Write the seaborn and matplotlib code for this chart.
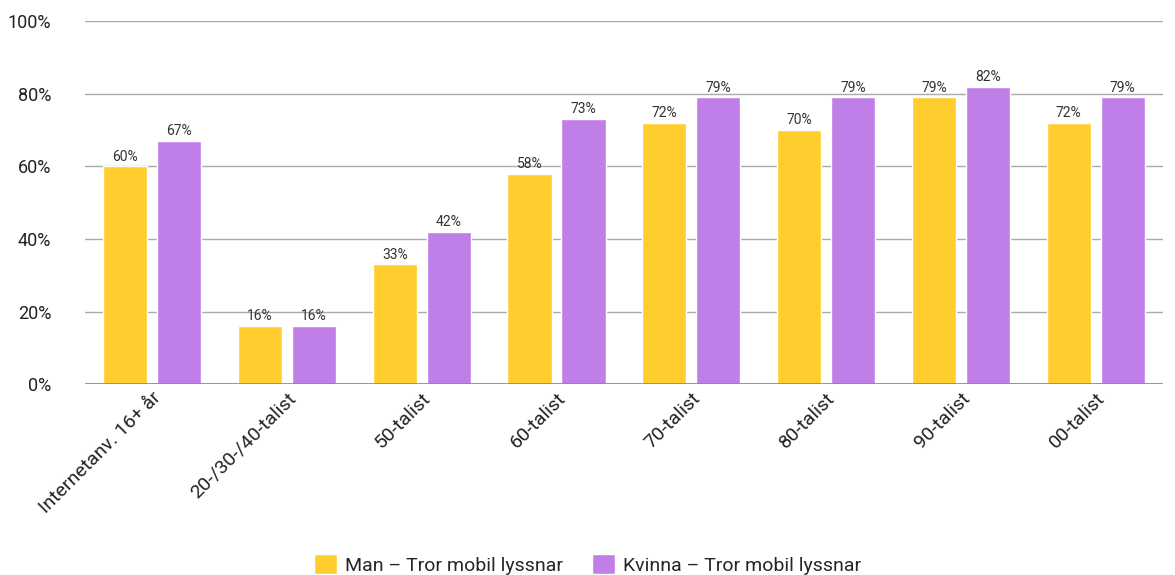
import pandas as pd
import matplotlib.pyplot as plt
import seaborn as sns
from matplotlib.ticker import PercentFormatter

categories = ['Internetanv. 16+ år', '20-/30-/40-talist', '50-talist', '60-talist',
              '70-talist', '80-talist', '90-talist', '00-talist']
man = [60, 16, 33, 58, 72, 70, 79, 72]
kvinna = [67, 16, 42, 73, 79, 79, 82, 79]
series = ['Man – Tror mobil lyssnar', 'Kvinna – Tror mobil lyssnar']
colors = ['#FFCD2E', '#C07EE8']

df = pd.DataFrame({
    'kategori': categories * 2,
    'serie': [series[0]] * len(categories) + [series[1]] * len(categories),
    'varde': man + kvinna,
})

sns.set_theme(style='white')
plt.rcParams['font.family'] = ['Roboto', 'DejaVu Sans']

fig, ax = plt.subplots(figsize=(11.75, 5.75), dpi=100)
fig.subplots_adjust(left=0.072, right=0.99, top=0.963, bottom=0.332)

sns.barplot(data=df, x='kategori', y='varde', hue='serie', palette=colors,
            width=0.8, gap=0.18, saturation=1, ax=ax, zorder=3)

for cont in ax.containers:
    ax.bar_label(cont, labels=[f'{v:.0f}%' for v in cont.datavalues],
                 padding=2, fontsize=10, color='#333333')

ax.set_ylim(0, 100)
ax.set_yticks(range(0, 101, 20))
ax.yaxis.set_major_formatter(PercentFormatter(decimals=0))
ax.grid(axis='y', color='#AAAAAA', linewidth=1, zorder=0)
ax.axhline(0, color='#888888', linewidth=1.2, zorder=4)
for s in ax.spines.values():
    s.set_visible(False)
ax.tick_params(axis='y', length=0, labelsize=13, pad=24, colors='#222222')
ax.tick_params(axis='x', length=0, labelsize=14, colors='#222222')
plt.setp(ax.get_xticklabels(), rotation=45, ha='right', rotation_mode='anchor')
ax.set_xlabel('')
ax.set_ylabel('')

handles, labels = ax.get_legend_handles_labels()
ax.legend_.remove()
fig.legend(handles, labels, loc='lower center', bbox_to_anchor=(0.5, -0.03), ncol=2,
           frameon=False, fontsize=14, handlelength=1.2, handleheight=1.2,
           columnspacing=1.5, handletextpad=0.4)

plt.savefig('out.png', dpi=100)
